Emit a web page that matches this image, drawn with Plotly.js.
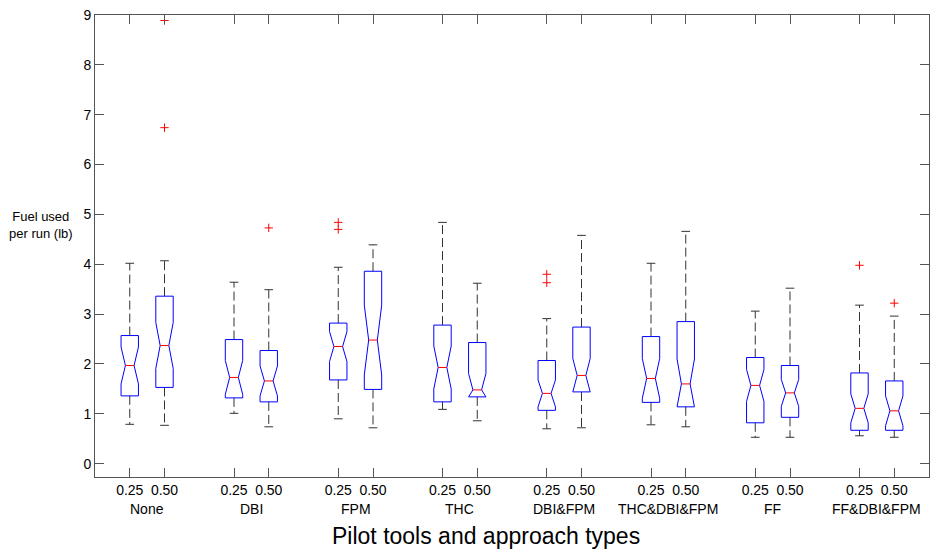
<!DOCTYPE html>
<html>
<head>
<meta charset="utf-8">
<script src="https://cdn.plot.ly/plotly-3.0.1.min.js"></script>
<style>html,body{margin:0;padding:0;background:#fff;}#chart{width:932px;height:550px;}</style>
</head>
<body>
<div id="chart"></div>
<script>
// ---- data ----
const groups = ["None", "DBI", "FPM", "THC", "DBI&FPM", "THC&DBI&FPM", "FF", "FF&DBI&FPM"];
const subLabels = ["0.25", "0.50"];
const upperWhisker = [4.02, 4.07, 3.64, 3.49, 3.94, 4.39, 4.84, 3.62, 2.91, 4.58, 4.02, 4.66, 3.06, 3.52, 3.18, 2.96];
const q3 = [2.57, 3.36, 2.49, 2.27, 2.82, 3.86, 2.78, 2.43, 2.07, 2.74, 2.55, 2.85, 2.13, 1.97, 1.82, 1.66];
const medians = [1.97, 2.37, 1.73, 1.66, 2.35, 2.48, 1.93, 1.48, 1.41, 1.77, 1.71, 1.60, 1.57, 1.42, 1.11, 1.06];
const q1 = [1.36, 1.53, 1.32, 1.24, 1.68, 1.49, 1.24, 1.34, 1.07, 1.44, 1.23, 1.14, 0.82, 0.93, 0.67, 0.67];
const lowerWhisker = [0.79, 0.77, 1.01, 0.74, 0.90, 0.72, 1.09, 0.86, 0.70, 0.72, 0.78, 0.74, 0.53, 0.53, 0.56, 0.53];
const notchHalf = [0.37, 0.46, 0.34, 0.30, 0.30, 0.70, 0.43, 0.33, 0.27, 0.34, 0.40, 0.50, 0.32, 0.27, 0.29, 0.30];
const outlierBox = [1, 1, 3, 4, 4, 8, 8, 14, 15];
const outlierVal = [8.89, 6.74, 4.73, 4.84, 4.70, 3.80, 3.63, 3.98, 3.22];

// ---- geometry helpers ----
const W = 0.25, NW = 0.125, CAP = 0.125;
function pos(i) { return 3 * Math.floor(i / 2) + (i % 2); }

const boxX = [], boxY = [], medX = [], medY = [], whX = [], whY = [], capX = [], capY = [];
for (let i = 0; i < medians.length; i++) {
  const c = pos(i), m = medians[i];
  const hi = Math.min(q3[i], m + notchHalf[i]);
  const lo = Math.max(q1[i], m - notchHalf[i]);
  boxX.push(c - W, c + W, c + W, c + NW, c + W, c + W, c - W, c - W, c - NW, c - W, c - W, null);
  boxY.push(q3[i], q3[i], hi, m, lo, q1[i], q1[i], lo, m, hi, q3[i], null);
  medX.push(c - NW, c + NW, null); medY.push(m, m, null);
  whX.push(c, c, null, c, c, null);
  whY.push(q3[i], upperWhisker[i], null, q1[i], lowerWhisker[i], null);
  capX.push(c - CAP, c + CAP, null, c - CAP, c + CAP, null);
  capY.push(upperWhisker[i], upperWhisker[i], null, lowerWhisker[i], lowerWhisker[i], null);
}
const outX = outlierBox.map(pos);

const tickVals = [], tickText = [];
for (let i = 0; i < groups.length * 2; i++) { tickVals.push(pos(i)); tickText.push(subLabels[i % 2]); }

const traces = [
  {x: whX, y: whY, mode: 'lines', line: {color: '#333', width: 1, dash: '9px,4px'}, hoverinfo: 'skip'},
  {x: capX, y: capY, mode: 'lines', line: {color: '#333', width: 1}, hoverinfo: 'skip'},
  {x: boxX, y: boxY, mode: 'lines', line: {color: '#0000ff', width: 1}, hoverinfo: 'skip'},
  {x: medX, y: medY, mode: 'lines', line: {color: '#ff0000', width: 1}, hoverinfo: 'skip'},
  {x: outX, y: outlierVal, mode: 'markers', marker: {symbol: 'cross-thin-open', size: 6, color: '#ff0000', line: {color: '#ff0000', width: 1}}, hoverinfo: 'skip'}
];

const FONT = 'Liberation Sans, Arial, Helvetica, sans-serif';
const annotations = groups.map((g, k) => ({
  x: 3 * k + 0.5, xref: 'x', y: -0.069, yref: 'paper', text: g, showarrow: false,
  xanchor: 'center', yanchor: 'middle', font: {family: FONT, size: 14, color: '#000'}
}));
annotations.push({x: -0.0644, xref: 'paper', y: 0.545, yref: 'paper', text: 'Fuel used<br>per run (lb)',
  showarrow: false, xanchor: 'center', yanchor: 'middle', align: 'center', font: {family: FONT, size: 13, color: '#000'}});
annotations.push({x: 0.469, xref: 'paper', y: -0.128, yref: 'paper', text: 'Pilot tools and approach types',
  showarrow: false, xanchor: 'center', yanchor: 'middle', font: {family: FONT, size: 23, color: '#000'}});

const layout = {
  width: 932, height: 550,
  margin: {l: 95, r: 3, t: 15, b: 73},
  paper_bgcolor: '#fff', plot_bgcolor: '#fff',
  showlegend: false,
  font: {family: FONT, size: 14, color: '#000'},
  xaxis: {range: [-1, 23], tickvals: tickVals, ticktext: tickText, ticks: 'inside', ticklen: 9,
    tickcolor: '#555', showline: true, linecolor: '#555', linewidth: 1, mirror: 'ticks',
    showgrid: false, zeroline: false, tickfont: {family: FONT, size: 14, color: '#000'}},
  yaxis: {range: [-0.267, 9], tickvals: [0,1,2,3,4,5,6,7,8,9], ticks: 'inside', ticklen: 9,
    tickcolor: '#555', showline: true, linecolor: '#555', linewidth: 1, mirror: 'ticks',
    showgrid: false, zeroline: false, tickfont: {family: FONT, size: 14, color: '#000'}},
  annotations: annotations
};

Plotly.newPlot('chart', traces, layout, {displayModeBar: false, staticPlot: true});
</script>
</body>
</html>
